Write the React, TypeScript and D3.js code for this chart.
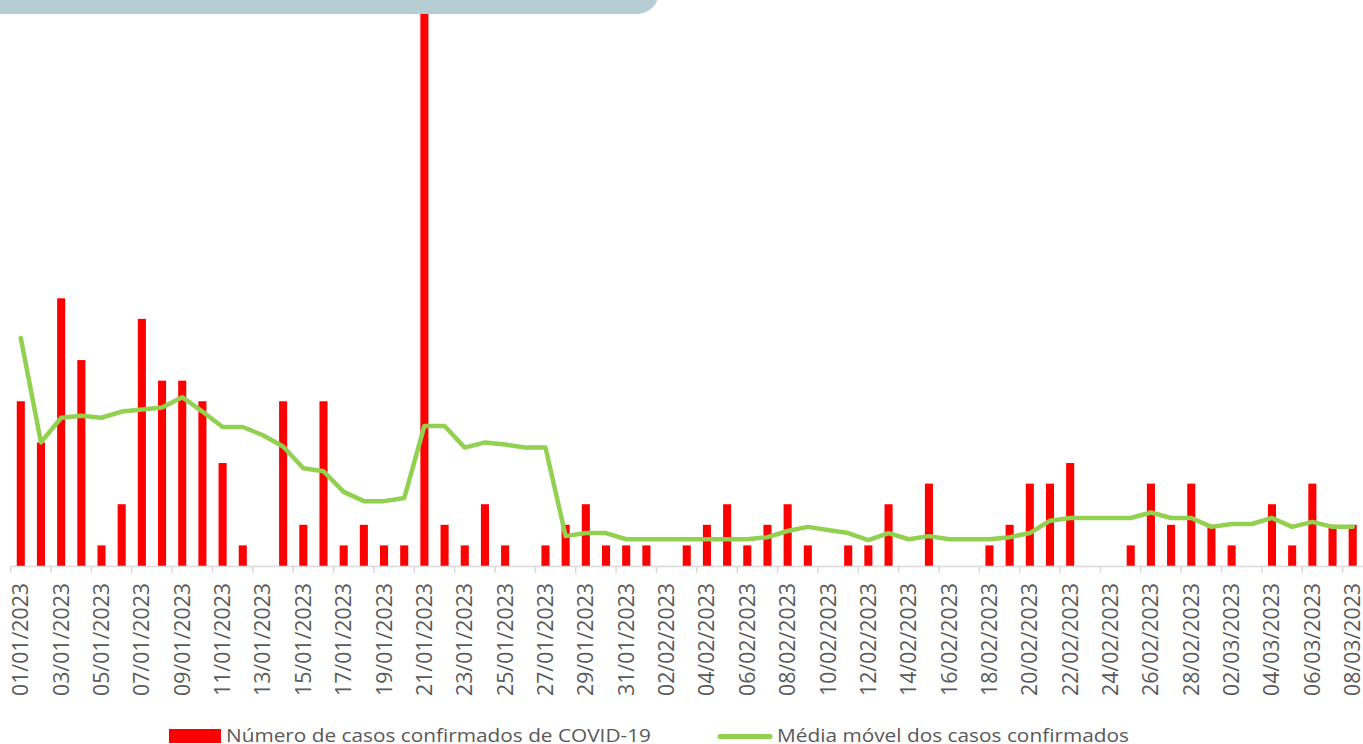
import React, { useEffect, useRef } from "react";
import * as d3 from "d3";

// daily dates 01/01/2023 .. 08/03/2023
const dates: string[] = [];
for (let m = 1; m <= 3; m++) {
  const days = m === 1 ? 31 : m === 2 ? 28 : 8;
  for (let d = 1; d <= days; d++) {
    dates.push(`${String(d).padStart(2, "0")}/${String(m).padStart(2, "0")}/2023`);
  }
}

const cases = [
  8, 6, 13, 10, 1, 3, 12, 9, 9, 8, 5, 1, 0, 8, 2, 8, 1, 2, 1, 1, 27, 2, 1, 3, 1, 0, 1, 2, 3, 1, 1,
  1, 0, 1, 2, 3, 1, 2, 3, 1, 0, 1, 1, 3, 0, 4, 0, 0, 1, 2, 4, 4, 5, 0, 0, 1, 4, 2, 4, 2,
  1, 0, 3, 1, 4, 2, 2,
];

const movingAvg = [
  11.07, 6.0, 7.2, 7.3, 7.2, 7.5, 7.6, 7.7, 8.2, 7.5, 6.75, 6.75, 6.35, 5.8, 4.75, 4.6, 3.6, 3.15,
  3.15, 3.3, 6.8, 6.8, 5.75, 6.0, 5.9, 5.75, 5.75, 1.45, 1.6, 1.6, 1.3,
  1.3, 1.3, 1.3, 1.3, 1.3, 1.3, 1.4, 1.7, 1.9, 1.75, 1.6, 1.26, 1.6, 1.3, 1.45, 1.3, 1.3, 1.3, 1.4,
  1.6, 2.2, 2.33, 2.33, 2.33, 2.33, 2.6, 2.33, 2.33,
  1.9, 2.04, 2.04, 2.33, 1.9, 2.14, 1.9, 1.9,
];

const legendLabels = ["Número de casos confirmados de COVID-19", "Média móvel dos casos confirmados"];

const App = () => {
  const ref = useRef<SVGSVGElement>(null);

  useEffect(() => {
    const width = 1363;
    const height = 744;
    const svg = d3.select(ref.current).attr("width", width).attr("height", height);
    svg.selectAll("*").remove();

    const x = d3.scaleBand().domain(dates).range([10.7, 1362.8]).paddingInner(0.6).paddingOuter(0.3);
    const step = x.step();
    const y = d3.scaleLinear().domain([0, 27]).range([566, 10]);

    // bars
    svg
      .append("g")
      .selectAll("rect")
      .data(cases)
      .join("rect")
      .attr("x", (d, i) => x(dates[i])!)
      .attr("y", (d) => y(d))
      .attr("width", x.bandwidth())
      .attr("height", (d) => y(0) - y(d))
      .attr("fill", "#ff0000");

    // axis line
    svg
      .append("line")
      .attr("x1", 10.7)
      .attr("x2", 1362.8)
      .attr("y1", y(0) + 0.5)
      .attr("y2", y(0) + 0.5)
      .attr("stroke", "#d9d9d9")
      .attr("stroke-width", 1.5);

    // tick marks every 2 days at band boundaries
    const tickIdx = d3.range(0, dates.length, 2);
    svg
      .append("g")
      .selectAll("line")
      .data(tickIdx)
      .join("line")
      .attr("x1", (i) => 10.7 + i * step)
      .attr("x2", (i) => 10.7 + i * step)
      .attr("y1", y(0))
      .attr("y2", y(0) + 7)
      .attr("stroke", "#d9d9d9")
      .attr("stroke-width", 1.5);

    // tick labels
    svg
      .append("g")
      .selectAll("text")
      .data(tickIdx)
      .join("text")
      .attr("transform", (i) => `translate(${x(dates[i])! + x.bandwidth() / 2 + 7.5}, 583) rotate(-90)`)
      .attr("text-anchor", "end")
      .attr("font-family", "Open Sans")
      .attr("font-size", 21)
      .attr("fill", "#595959")
      .attr("textLength", 113)
      .attr("lengthAdjust", "spacingAndGlyphs")
      .text((i) => dates[i]);

    // moving average line
    const line = d3
      .line<number>()
      .x((d, i) => x(dates[i])! + x.bandwidth() / 2)
      .y((d) => y(d));

    svg
      .append("path")
      .datum(movingAvg)
      .attr("d", line)
      .attr("fill", "none")
      .attr("stroke", "#92d050")
      .attr("stroke-width", 4.5)
      .attr("stroke-linejoin", "round")
      .attr("stroke-linecap", "round");

    // banner at top
    svg
      .append("rect")
      .attr("x", -20)
      .attr("y", -40)
      .attr("width", 679)
      .attr("height", 54)
      .attr("rx", 22)
      .attr("fill", "#b6cdd3");

    // legend
    const lg = svg.append("g");
    lg.append("rect").attr("x", 169).attr("y", 729).attr("width", 52).attr("height", 14).attr("fill", "#ff0000");
    lg.append("text")
      .attr("x", 226)
      .attr("y", 742)
      .attr("font-family", "Open Sans")
      .attr("font-size", 18)
      .attr("fill", "#595959")
      .attr("textLength", 425)
      .attr("lengthAdjust", "spacingAndGlyphs")
      .text(legendLabels[0]);
    lg.append("line")
      .attr("x1", 720)
      .attr("x2", 770)
      .attr("y1", 736.5)
      .attr("y2", 736.5)
      .attr("stroke", "#92d050")
      .attr("stroke-width", 5)
      .attr("stroke-linecap", "round");
    lg.append("text")
      .attr("x", 777)
      .attr("y", 742)
      .attr("font-family", "Open Sans")
      .attr("font-size", 18)
      .attr("fill", "#595959")
      .attr("textLength", 352)
      .attr("lengthAdjust", "spacingAndGlyphs")
      .text(legendLabels[1]);
  });

  return (
    <div style={{ position: "absolute", left: 0, top: 0 }}>
      <svg ref={ref} style={{ display: "block" }}></svg>
    </div>
  );
};

export default App;
